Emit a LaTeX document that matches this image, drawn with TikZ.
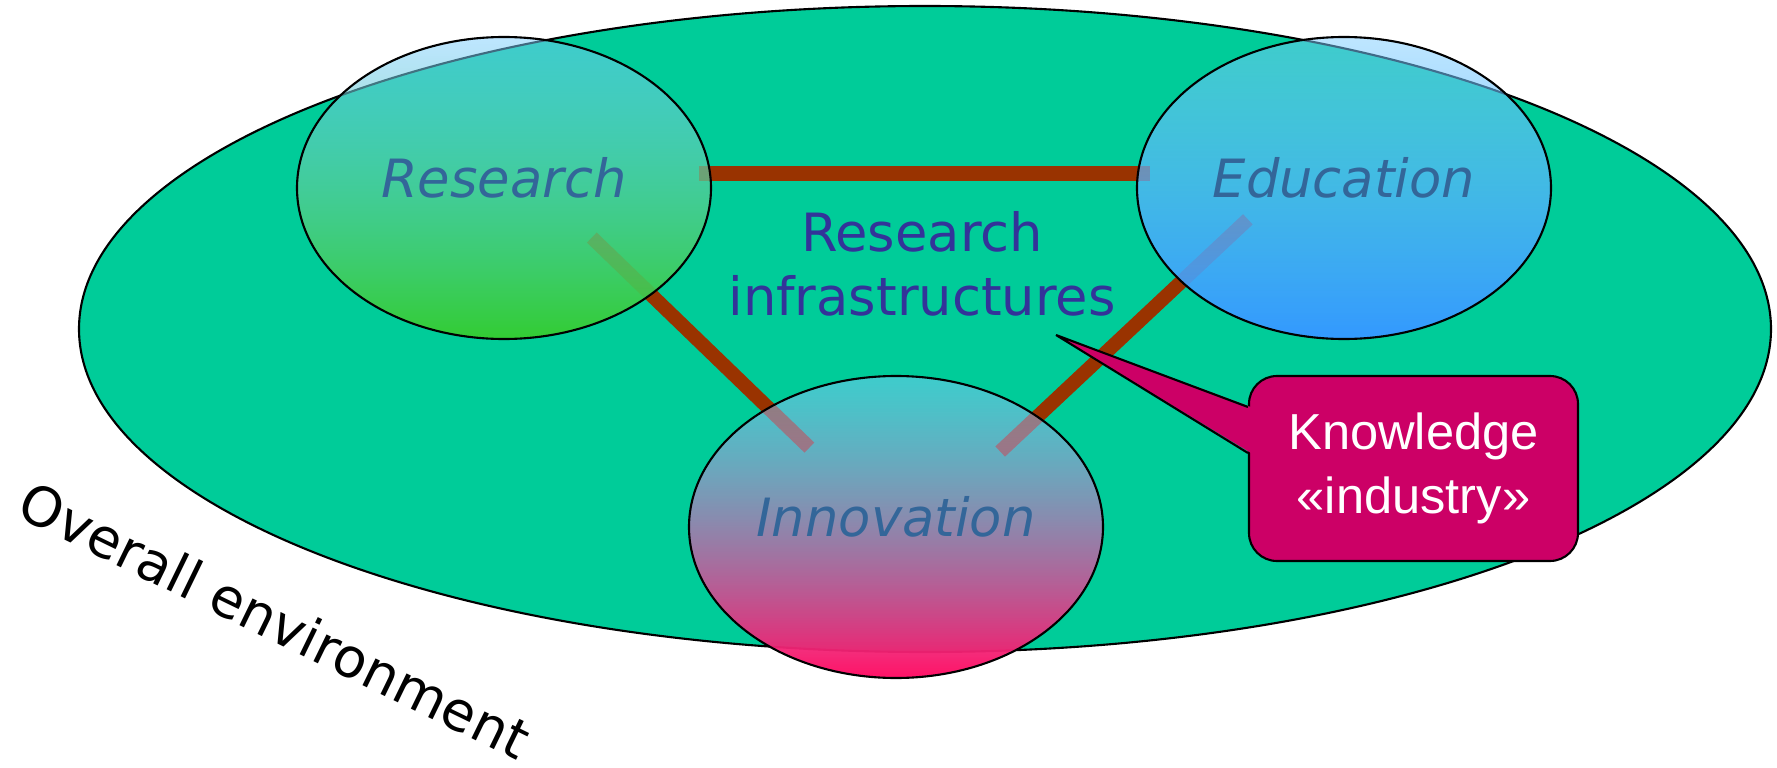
\documentclass[tikz,border=0pt]{standalone}
\usepackage{fontspec}
\setmainfont{DejaVu Sans}
\newfontfamily\calloutfont{Liberation Sans}
\usetikzlibrary{shapes.geometric, fadings, calc}

\definecolor{envgreen}{HTML}{00CC99}
\definecolor{linkbrown}{HTML}{993300}
\definecolor{labelblue}{HTML}{336699}
\definecolor{infrablue}{HTML}{333399}
\definecolor{knowred}{HTML}{CC0066}
\definecolor{bubbletop}{RGB}{125,205,255}
\definecolor{resgreen}{HTML}{33CC33}
\definecolor{edublue}{HTML}{3399FF}
\definecolor{innpink}{HTML}{FF1166}

\tikzfading[name=fade up, top color=transparent!50, bottom color=transparent!0]

\pgfdeclarelayer{back}
\pgfsetlayers{back,main}

\tikzset{
    bubble/.style = {ellipse, draw, semithick, minimum width=4.14cm, minimum height=3.02cm,
        inner sep=0pt, text depth=0.22cm, text=labelblue,
        font=\fontsize{15}{18}\selectfont\itshape,
        preaction={top color=bubbletop, bottom color=#1, path fading=fade up}},
    link/.style = {draw, linkbrown, line width=4pt},
}

\begin{document}
\begin{tikzpicture}
    \useasboundingbox (0,0) rectangle (17.77,7.67);

    \node (R) [bubble=resgreen] at (5.04,5.79) {Research};
    \node (E) [bubble=edublue] at (13.44,5.79) {Education};
    \node (I) [bubble=innpink] at (8.96,2.40) {Innovation};

    \begin{pgfonlayer}{back}
        \node (env) [ellipse, draw, semithick, fill=envgreen, inner sep=0pt,
            minimum width=16.92cm, minimum height=6.46cm] at (9.25,4.38) {};
        \path [link, shorten <=-0.12cm, shorten >=-0.13cm] (R.4) edge (E.176);
        \path [link, shorten <=-0.83cm, shorten >=-0.58cm] (R.-36) edge (I.137);
        \path [link, shorten <=-0.92cm, shorten >=-0.52cm] (E.-150) edge (I.38);
    \end{pgfonlayer}

    \node (RI) [text=infrablue, align=center, font=\fontsize{15}{18.4}\selectfont]
        at (9.22,5.03) {Research\\infrastructures};

    % callout
    \node (K) [draw, semithick, fill=knowred, rounded corners=0.28cm, text=white,
        minimum width=3.29cm, minimum height=1.85cm, align=center,
        font=\calloutfont\fontsize{14.4}{18.1}\selectfont] at (14.135,2.985)
        {Knowledge\\«industry»};
    \coordinate (tip) at (10.56,4.32);
    \fill [knowred] (tip) -- ($(K.west)+(0.03,0.615)$) -- ($(K.west)+(0.03,0.155)$) -- cycle;
    \draw [semithick] ($(K.west)+(0,0.615)$) -- (tip) -- ($(K.west)+(0,0.155)$);

    \node (O) [rotate=-26, font=\fontsize{15.5}{18}\selectfont] at (2.75,1.47) {Overall environment};
\end{tikzpicture}
\end{document}
